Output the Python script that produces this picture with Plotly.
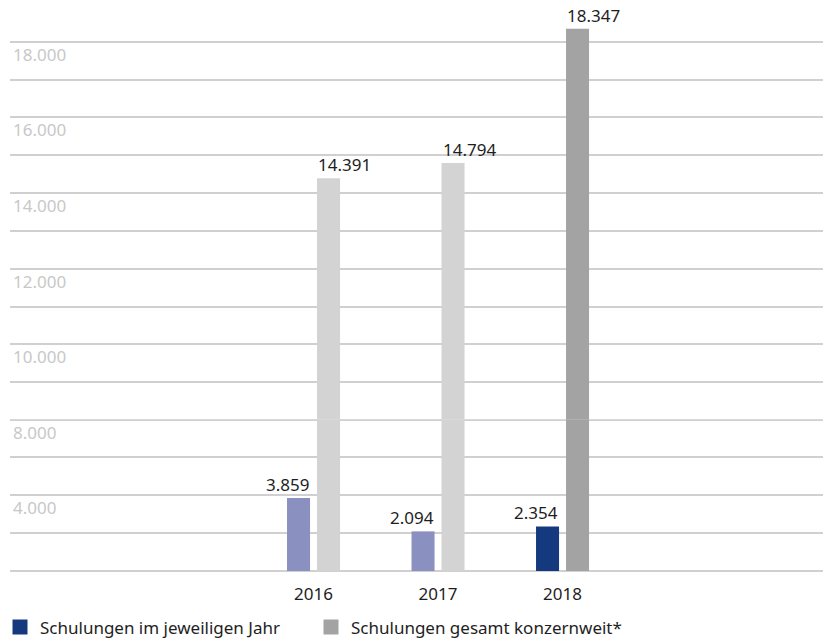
import plotly.graph_objects as go

# Data
years = ["2016", "2017", "2018"]
schulungen_jahr = [3859, 2094, 2354]
schulungen_gesamt = [14391, 14794, 18347]
value_labels_jahr = ["3.859", "2.094", "2.354"]
value_labels_gesamt = ["14.391", "14.794", "18.347"]

series_names = ["Schulungen im jeweiligen Jahr", "Schulungen gesamt konzernweit*"]

# Colours (earlier years are shown in lighter tints)
jahr_colors = ["#8a90bf", "#8a90bf", "#15397e"]
gesamt_colors = ["#d3d3d3", "#d3d3d3", "#a3a3a3"]
legend_colors = ["#15397e", "#a3a3a3"]

# Broken value axis: lower segment 0-8.000, upper segment 8.000-19.000
axis_break = 8000
axis_top = 19000
low_ticks = [0, 2000, 4000, 6000, 8000]
low_tick_labels = ["", "", "4.000", "", "8.000"]
high_ticks = [9000, 10000, 11000, 12000, 13000, 14000, 15000, 16000, 17000, 18000, 19000]
high_tick_labels = ["", "10.000", "", "12.000", "", "14.000", "", "16.000", "", "18.000", ""]

FONT = "Noto Sans"
TEXT = "#1e1e1e"
GRID = "#d0d0d0"

fig = go.Figure()

for xa, ya in (("x", "y"), ("x2", "y2")):
    fig.add_trace(go.Bar(
        x=years, y=schulungen_jahr, marker=dict(color=jahr_colors, line=dict(width=0)),
        offsetgroup="jahr", xaxis=xa, yaxis=ya, showlegend=False, hoverinfo="skip"))
    fig.add_trace(go.Bar(
        x=years, y=schulungen_gesamt, marker=dict(color=gesamt_colors, line=dict(width=0)),
        offsetgroup="gesamt", xaxis=xa, yaxis=ya, showlegend=False, hoverinfo="skip"))

# Legend entries
for name, col in zip(series_names, legend_colors):
    fig.add_trace(go.Scatter(
        x=[None], y=[None], mode="markers", name=name,
        marker=dict(symbol="square", size=15, color=col), xaxis="x", yaxis="y"))

# Value labels: year values right-aligned to their bar, totals left-aligned
annotations = []
for i, (v, lab) in enumerate(zip(schulungen_jahr, value_labels_jahr)):
    up = v >= axis_break
    annotations.append(dict(
        x=i, y=v, xref="x2" if up else "x", yref="y2" if up else "y",
        text=lab, showarrow=False, xanchor="right", yanchor="bottom",
        xshift=-2.5, yshift=0, font=dict(family=FONT, size=17, color=TEXT)))
for i, (v, lab) in enumerate(zip(schulungen_gesamt, value_labels_gesamt)):
    up = v >= axis_break
    annotations.append(dict(
        x=i, y=v, xref="x2" if up else "x", yref="y2" if up else "y",
        text=lab, showarrow=False, xanchor="left", yanchor="bottom",
        xshift=2.5, yshift=0, font=dict(family=FONT, size=17, color=TEXT)))

x_range = [-2.438, 4.092]
pad = 25  # keeps the edge gridlines inside each segment
plot_h = 640 - 3 - 69

# Lower segment is drawn at half the scale of the upper one
low_units = (axis_break + pad) / 2
low_share = low_units / (low_units + (axis_top - axis_break))
# the lower segment overlaps the upper one by 2 px (same scale) so the bars join seamlessly
overlap_px = 2
overlap_val = overlap_px / (low_share * plot_h) * (axis_break + pad)

yaxis_common = dict(
    showgrid=True, gridcolor=GRID, gridwidth=1.5,
    ticks="", showline=False,
    ticklabelposition="inside", ticklabelstandoff=0, ticklabelshift=13,
    tickfont=dict(family=FONT, size=17, color="#c8c8c8"),
    fixedrange=True,
)

fig.update_layout(
    width=823, height=640,
    margin=dict(l=10, r=0, t=3, b=69),
    paper_bgcolor="white", plot_bgcolor="white",
    barmode="group", bargap=0.518, bargroupgap=0.233,
    font=dict(family=FONT, size=17, color=TEXT),
    xaxis=dict(domain=[0, 1], anchor="y", type="category", range=x_range,
               showgrid=False, ticks="", showline=False, zeroline=False,
               ticklabelstandoff=11,
               tickfont=dict(family=FONT, size=17, color=TEXT)),
    xaxis2=dict(domain=[0, 1], anchor="y2", type="category", matches="x",
                showgrid=False, showticklabels=False, ticks="", showline=False),
    yaxis=dict(domain=[0, low_share + overlap_px / plot_h],
               range=[0, axis_break + pad + overlap_val],
               tickvals=low_ticks, ticktext=low_tick_labels,
               zeroline=True, zerolinecolor=GRID, zerolinewidth=1.5,
               **yaxis_common),
    yaxis2=dict(domain=[low_share, 1], range=[axis_break + pad, axis_top + pad],
                tickvals=high_ticks, ticktext=high_tick_labels,
                zeroline=False, **yaxis_common),
    legend=dict(orientation="h", xref="container", yref="container",
                x=0, xanchor="left", y=12.5 / 640, yanchor="middle",
                font=dict(family=FONT, size=17, color=TEXT),
                entrywidth=266, itemwidth=30, bgcolor="rgba(0,0,0,0)"),
    annotations=annotations,
)

fig.write_html("out.html")
